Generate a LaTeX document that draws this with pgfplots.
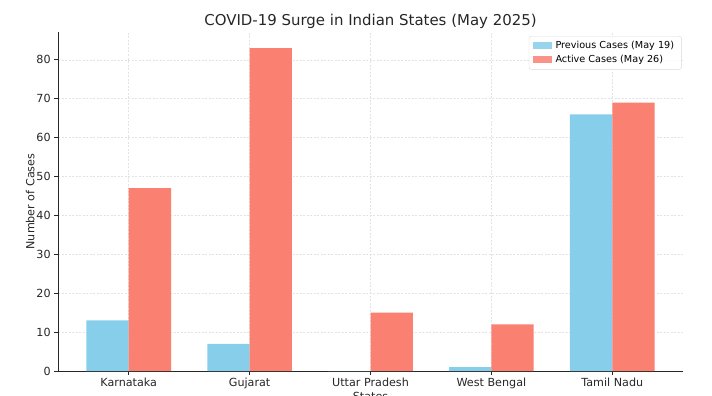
\documentclass[border=0pt]{standalone}
\usepackage{fontspec}
\setmainfont{DejaVu Sans}
\usepackage{pgfplots}
\pgfplotsset{compat=1.18}
\definecolor{skyb}{RGB}{135,206,235}
\definecolor{salm}{RGB}{250,128,114}
\begin{document}
\begin{tikzpicture}[x=1bp,y=1bp]
\useasboundingbox (0,0) rectangle (712,395);
\begin{axis}[
  at={(58bp,24bp)}, anchor=south west, scale only axis,
  width=625bp, height=339bp,
  xmin=-0.585, xmax=4.585, ymin=0, ymax=87.15,
  axis x line*=bottom, axis y line*=left,
  axis line style={black!85, line width=0.9bp},
  xtick={0,1,2,3,4},
  xticklabels={Karnataka,Gujarat,Uttar Pradesh,West Bengal,Tamil Nadu},
  ytick={0,10,...,80},
  tick align=outside, major tick length=3.8bp,
  tick style={black!85, line width=0.9bp},
  /pgf/number format/assume math mode=true,
  ticklabel style={font=\fontsize{11.2}{13}\selectfont, text=black!85},
  grid=major,
  major grid style={dash pattern=on 2bp off 1.5bp, gray!22, line width=0.5bp},
  title={COVID-19 Surge in Indian States (May 2025)},
  title style={font=\fontsize{15}{18}\selectfont, text=black!85, at={(0.5,1)}, anchor=south, yshift=-6bp},
  xlabel={States},
  ylabel={Number of Cases},
  xlabel style={yshift=4bp},
  ylabel style={yshift=-5bp},
  label style={font=\fontsize{11.2}{13}\selectfont, text=black!85},
  legend style={at={(0.998,0.988)}, anchor=north east, draw=gray!30, rounded corners=2.5bp,
    font=\fontsize{9.7}{11}\selectfont, fill=white, fill opacity=0.85, text opacity=1,
    inner xsep=3.5bp, inner ysep=3bp, row sep=1.5bp,
    nodes={inner xsep=4bp}},
  legend cell align=left,
  legend image code/.code={\fill[#1, sharp corners] (0bp,-3.5bp) rectangle (19bp,3.5bp);},
]
\addplot[ybar, fill=skyb, draw=none, bar width=0.35, bar shift=-0.175]
  coordinates {(0,13) (1,7) (2,0) (3,1) (4,66)};
\addlegendentry{Previous Cases (May 19)}
\addplot[ybar, fill=salm, draw=none, bar width=0.35, bar shift=0.175]
  coordinates {(0,47) (1,83) (2,15) (3,12) (4,69)};
\addlegendentry{Active Cases (May 26)}
\end{axis}
\end{tikzpicture}
\end{document}
